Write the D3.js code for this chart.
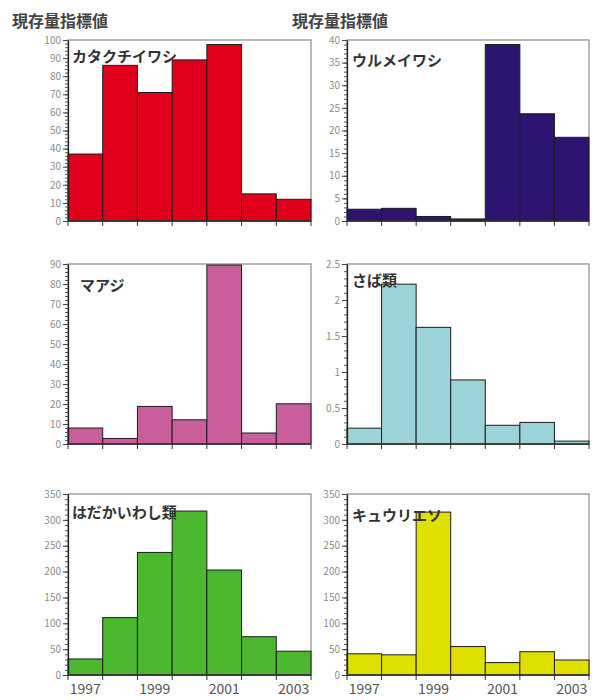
<!DOCTYPE html>
<html>
<head>
<meta charset="utf-8">
<script src="https://cdn.jsdelivr.net/npm/d3@7"></script>
<style>
  body { margin: 0; background: #fff; }
  svg { display: block; }
  text { font-family: "Noto Sans CJK JP", "Noto Sans", sans-serif; }
</style>
</head>
<body>
<svg id="chart"></svg>
<script>
const global_width = 592,
  global_height = 700;

// data
const years = ['1997', '1998', '1999', '2000', '2001', '2002', '2003']
const yearLabels = ['1997', '1999', '2001', '2003']
const headerText = '現存量指標値'

const katakuchi = [37, 86, 71, 89, 97.5, 15, 12]
const urume = [2.6, 2.8, 1.0, 0.45, 39, 23.7, 18.5]
const maaji = [8, 2.8, 18.8, 12.1, 89.5, 5.5, 20.1]
const saba = [0.22, 2.22, 1.62, 0.89, 0.26, 0.30, 0.04]
const hadaka = [31, 111, 237, 317, 203, 74, 46]
const kyuuri = [41, 39, 315, 55, 24, 45, 29]

const names = ['カタクチイワシ', 'ウルメイワシ', 'マアジ', 'さば類', 'はだかいわし類', 'キュウリエソ']
const maxima = [100, 40, 90, 2.5, 350, 350]
const majorSteps = [10, 5, 10, 0.5, 50, 50]
const minorSteps = [2, 1, 2, 0.1, 10, 10]
const colors = ['#e1001c', '#2d1470', '#c85f9c', '#9bd3d9', '#4cb82f', '#e0e000']
const series = [katakuchi, urume, maaji, saba, hadaka, kyuuri]

// panel boxes
const cols = [{x0: 68, x1: 311}, {x0: 347, x1: 589}]
const rows = [{y0: 40, y1: 221}, {y0: 264, y1: 444}, {y0: 494, y1: 675}]
const labelOffsets = [
  {dx: 4, dy: 22}, {dx: 5, dy: 26},
  {dx: 12, dy: 27}, {dx: 5, dy: 22},
  {dx: 4, dy: 24}, {dx: 5, dy: 27},
]

const svg = d3.select('#chart')
  .attr('width', global_width)
  .attr('height', global_height)

svg.append('rect')
  .attr('width', global_width)
  .attr('height', global_height)
  .attr('fill', '#fff')

// headers
cols.forEach((c, i) => {
  svg.append('text')
    .attr('x', i === 0 ? 12 : 292)
    .attr('y', 27)
    .attr('font-size', '16px')
    .attr('font-weight', 'bold')
    .attr('fill', '#444')
    .text(headerText)
})

const drawPanel = (k) => {
  const col = cols[k % 2], row = rows[Math.floor(k / 2)]
  const w = col.x1 - col.x0, h = row.y1 - row.y0

  const g = svg.append('g')
    .attr('transform', `translate(${col.x0},${row.y0})`)

  const xScale = d3.scaleBand().domain(years).range([0, w]).padding(0)
  const yScale = d3.scaleLinear().domain([0, maxima[k]]).range([h, 0])

  // frame
  g.append('rect')
    .attr('width', w)
    .attr('height', h)
    .attr('fill', 'none')
    .attr('stroke', '#8a8a8a')
    .attr('stroke-width', 1.2)

  // bars
  g.selectAll('.bar')
    .data(series[k])
    .enter()
    .append('rect')
    .attr('class', 'bar')
    .attr('x', (d, i) => xScale(years[i]))
    .attr('width', xScale.bandwidth())
    .attr('y', d => yScale(d))
    .attr('height', d => h - yScale(d))
    .attr('fill', colors[k])
    .attr('stroke', '#1c1c1c')
    .attr('stroke-width', 1)

  // minor ticks
  const minorVals = d3.range(0, maxima[k] + minorSteps[k] / 2, minorSteps[k])
  g.append('g')
    .call(d3.axisLeft(yScale).tickValues(minorVals).tickSize(3).tickFormat(''))
    .call(a => a.select('.domain').remove())
    .selectAll('line').attr('stroke', '#555')

  // major ticks + labels
  const majorVals = d3.range(0, maxima[k] + majorSteps[k] / 2, majorSteps[k])
  const yAxis = g.append('g')
    .call(d3.axisLeft(yScale).tickValues(majorVals).tickSize(5).tickSizeOuter(0).tickPadding(2)
      .tickFormat(d => d3.format('~g')(+d.toFixed(2))))
  yAxis.select('.domain').attr('stroke', '#222').attr('stroke-width', 1.3)
  yAxis.selectAll('line').attr('stroke', '#444')
  yAxis.selectAll('text')
    .attr('font-size', '10px')
    .attr('fill', '#8c8c8c')

  // x ticks at bar edges
  const edges = years.map(y => xScale(y)).concat([w])
  g.selectAll('.xtick')
    .data(edges)
    .enter()
    .append('line')
    .attr('x1', d => d)
    .attr('x2', d => d)
    .attr('y1', h)
    .attr('y2', h + 5)
    .attr('stroke', '#333')
  g.append('line')
    .attr('x1', 0)
    .attr('x2', w)
    .attr('y1', h)
    .attr('y2', h)
    .attr('stroke', '#333')
    .attr('stroke-width', 1.3)

  // year labels on bottom row
  if (k >= 4) {
    g.selectAll('.year')
      .data(yearLabels)
      .enter()
      .append('text')
      .attr('x', d => xScale(d) + xScale.bandwidth() / 2)
      .attr('y', h + 19)
      .attr('text-anchor', 'middle')
      .attr('font-size', '14px')
      .attr('fill', '#555')
      .text(d => d)
  }

  // fish name
  g.append('text')
    .attr('x', labelOffsets[k].dx)
    .attr('y', labelOffsets[k].dy)
    .attr('font-size', '15px')
    .attr('font-weight', 'bold')
    .attr('fill', '#333')
    .text(names[k])
}

for (let k = 0; k < 6; k++) drawPanel(k)
</script>
</body>
</html>
